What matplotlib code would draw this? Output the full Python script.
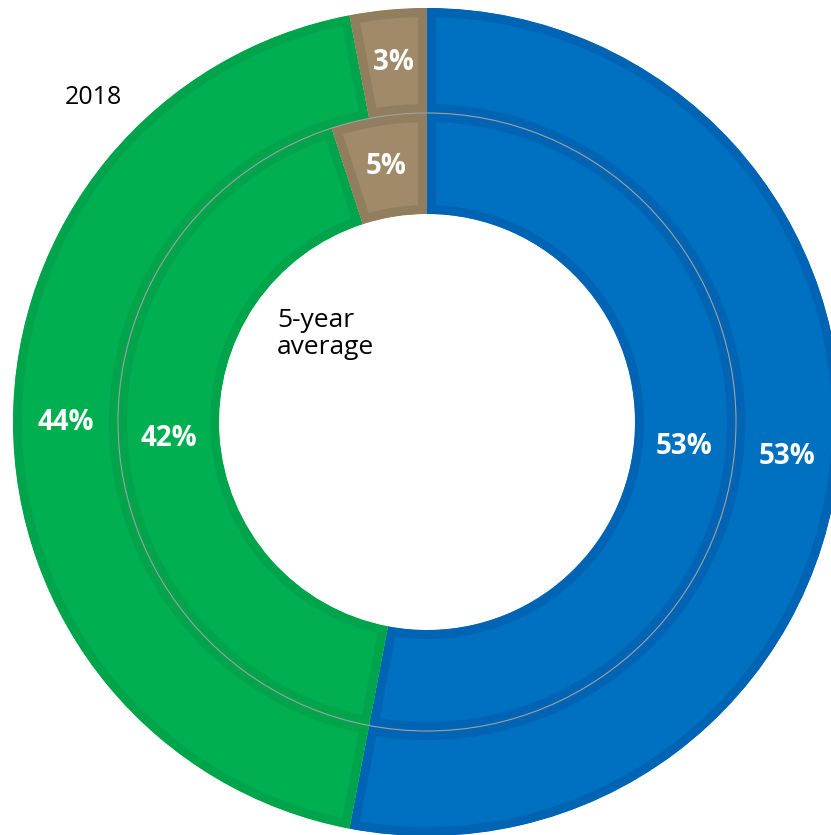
import matplotlib.pyplot as plt
from matplotlib.patches import Circle

# shares in percent, clockwise from 12 o'clock
segments = ['blue', 'green', 'tan']
share_2018 = [53, 44, 3]
share_5yr = [53, 42, 5]

fills = ['#0070C0', '#00B050', '#A08A69']
edges = ['#0064B4', '#00A54B', '#907E5F']

plt.rcParams['font.family'] = ['Open Sans', 'DejaVu Sans']

fig = plt.figure(figsize=(8.31, 8.35), dpi=100)
ax = fig.add_axes([0, 0, 1, 1])

cx, cy = 427, 835 - 422
R_out, R_mid, R_in = 414, 309, 208


def ring(vals, radius, width):
    wedges, texts, autotexts = ax.pie(
        vals, radius=radius, center=(cx, cy), startangle=90, counterclock=False,
        colors=fills, autopct=lambda p: '%.0f%%' % p,
        pctdistance=(radius - width / 2) / radius,
        wedgeprops=dict(width=width, linewidth=13))
    for w, ec in zip(wedges, edges):
        w.set_edgecolor(ec)
        # keep the border stroke inside its own wedge
        w.set_clip_on(True)
        w.set_clip_path(w)
    for t in autotexts:
        t.set_color('white')
        t.set_fontsize(20)
        t.set_fontweight('bold')
    return wedges


ring(share_2018, R_out, R_out - R_mid)
ring(share_5yr, R_mid, R_mid - R_in)

ax.add_patch(Circle((cx, cy), R_mid, fill=False, edgecolor='#a0a0a0', lw=0.8))

ax.text(93, 835 - 97, '2018', fontsize=18, ha='center', va='center', color='black')
ax.text(277, 835 - 334, '5-year\naverage', fontsize=19, ha='left', va='center',
        color='black', linespacing=1.1)

ax.set_xlim(0, 831)
ax.set_ylim(0, 835)
ax.set_aspect('equal')
ax.axis('off')

fig.savefig('out.png', dpi=100)
